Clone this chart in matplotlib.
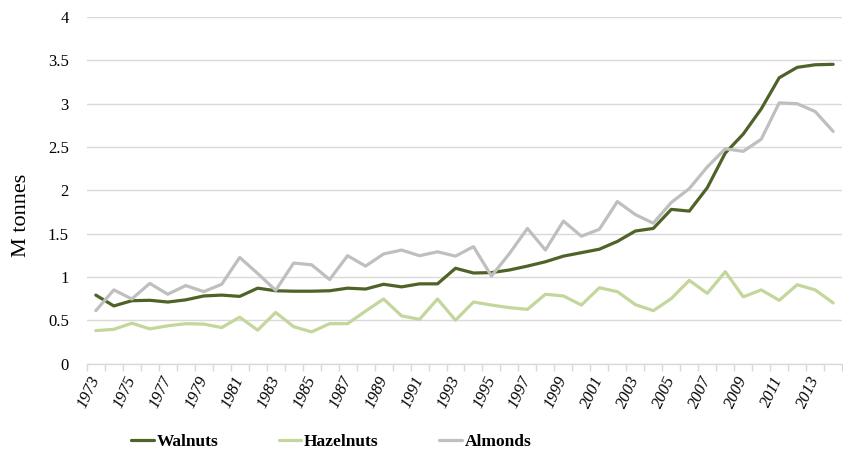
import numpy as np
import matplotlib
matplotlib.use('Agg')
import matplotlib.pyplot as plt
from matplotlib.ticker import FixedLocator

plt.rcParams['font.family'] = ['Liberation Serif', 'DejaVu Serif']

years = list(range(1973, 2015))
walnuts = [0.79, 0.665, 0.725, 0.73, 0.71, 0.735, 0.78, 0.79, 0.775, 0.87,
           0.84, 0.835, 0.835, 0.84, 0.87, 0.86, 0.915, 0.885, 0.92, 0.92,
           1.10, 1.045, 1.05, 1.08, 1.125, 1.175, 1.24, 1.28, 1.32, 1.41,
           1.53, 1.56, 1.78, 1.76, 2.03, 2.43, 2.65, 2.94, 3.30, 3.42,
           3.45, 3.455]
hazelnuts = [0.38, 0.395, 0.465, 0.40, 0.435, 0.46, 0.455, 0.415, 0.535, 0.385,
             0.59, 0.425, 0.365, 0.46, 0.46, 0.605, 0.745, 0.55, 0.51, 0.745,
             0.50, 0.71, 0.675, 0.645, 0.625, 0.80, 0.78, 0.675, 0.875, 0.83,
             0.68, 0.61, 0.75, 0.96, 0.81, 1.06, 0.77, 0.85, 0.73, 0.91,
             0.85, 0.70]
almonds = [0.61, 0.85, 0.745, 0.925, 0.80, 0.90, 0.83, 0.915, 1.225, 1.04,
           0.845, 1.16, 1.14, 0.97, 1.245, 1.125, 1.265, 1.31, 1.245, 1.29,
           1.24, 1.35, 1.01, 1.27, 1.56, 1.31, 1.645, 1.47, 1.55, 1.87,
           1.72, 1.62, 1.86, 2.02, 2.27, 2.48, 2.45, 2.59, 3.01, 3.00,
           2.91, 2.68]

series = [('Walnuts', walnuts, '#4F6228'),
          ('Hazelnuts', hazelnuts, '#C3D69B'),
          ('Almonds', almonds, '#BFBFBF')]

x = np.arange(len(years))

fig = plt.figure(figsize=(8.43, 4.51), dpi=100)
ax = fig.add_axes([0.103, 0.194, 0.896, 0.768])

for name, vals, color in series:
    ax.plot(x, vals, color=color, lw=2.3, label=name, solid_capstyle='round',
            solid_joinstyle='round', zorder=3)

ax.set_xlim(-0.5, len(years) - 0.5)
ax.set_ylim(0, 4)
ax.set_yticks(np.arange(0, 4.01, 0.5))
ax.set_yticklabels(['0', '0.5', '1', '1.5', '2', '2.5', '3', '3.5', '4'])
ax.yaxis.grid(True, color='#D9D9D9', lw=1)
ax.set_axisbelow(True)

ax.set_xticks(x[::2])
ax.set_xticklabels([str(y) for y in years[::2]], rotation=65, ha='right',
                   va='center', rotation_mode='anchor', style='italic',
                   fontsize=12)
ax.xaxis.set_minor_locator(FixedLocator(np.arange(-0.5, len(years), 1)))
ax.tick_params(axis='x', which='major', length=0, pad=10)
ax.tick_params(axis='x', which='minor', length=5, color='#D9D9D9', width=1)
ax.tick_params(axis='y', length=0, pad=13, labelsize=12)

for side in ['top', 'right', 'left']:
    ax.spines[side].set_visible(False)
ax.spines['bottom'].set_color('#D9D9D9')
ax.spines['bottom'].set_linewidth(1)

fig.text(22 / 843, 1 - 215 / 451, 'M tonnes', rotation=90, ha='center',
         va='center', fontsize=16)

fig.legend(loc='center', bbox_to_anchor=(0.393, 0.02), ncol=3, frameon=False,
           handlelength=1.3, handletextpad=0.15, columnspacing=3.5,
           prop={'weight': 'bold', 'size': 12.5})

plt.savefig('out.png', dpi=100)
plt.close()
